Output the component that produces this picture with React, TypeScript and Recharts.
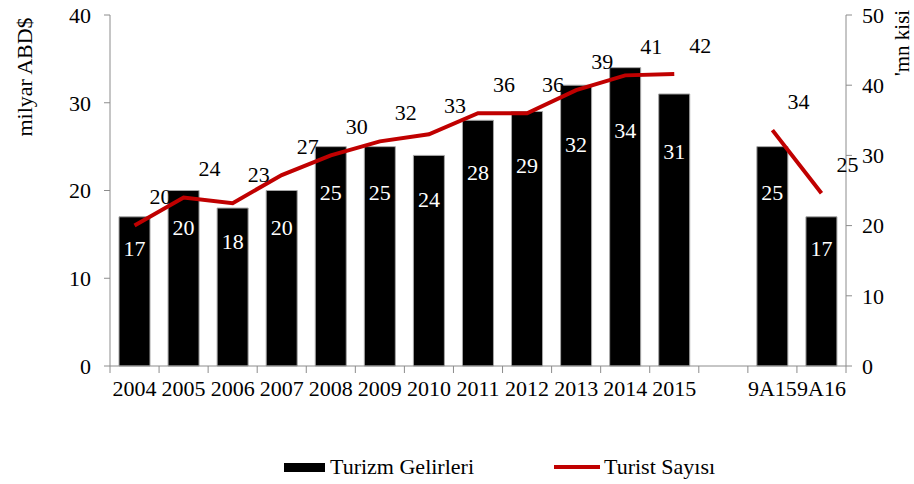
import React from 'react';
import { ComposedChart, Bar, Line, XAxis, YAxis, LabelList } from 'recharts';

const categories = ['2004', '2005', '2006', '2007', '2008', '2009', '2010', '2011', '2012', '2013', '2014', '2015', '', '9A15', '9A16'];
const revenue = [17, 20, 18, 20, 25, 25, 24, 28, 29, 32, 34, 31, null, 25, 17];
const tourists = [20, 24, 23.2, 27.2, 30, 32, 33, 36, 36, 39.3, 41.4, 41.6, null, 33.6, 24.6];
const leftTicks = [0, 10, 20, 30, 40];
const rightTicks = [0, 10, 20, 30, 40, 50];

const FONT = 'Liberation Serif, DejaVu Serif, serif';
const FS = 22;
const AXIS_GRAY = '#8c8c8c';
const RED = '#C00000';

const data = categories.map((c, i) => ({ name: c, revenue: revenue[i], tourists: tourists[i] }));

// category ticks sit between the bars, like the spreadsheet original
const XTick = (props: any) => {
    const { x, y, payload, index } = props;
    const half = payload.offset ?? 24.5;
    return (
        <g>
            <line x1={x - half} y1={y} x2={x - half} y2={y + 7} stroke={AXIS_GRAY} />
            {index === categories.length - 1 && (
                <line x1={x + half} y1={y} x2={x + half} y2={y + 7} stroke={AXIS_GRAY} />
            )}
            <text x={x} y={y + 30} textAnchor="middle" fill="#000" fontSize={FS} fontFamily={FONT}>
                {payload.value}
            </text>
        </g>
    );
};

const BarLabel = (props: any) => {
    const { x, y, width, height, value } = props;
    if (value == null) return null;
    return (
        <text x={x + width / 2} y={y + height * 0.21} dy="0.35em" textAnchor="middle" fill="#fff" fontSize={FS} fontFamily={FONT}>
            {Math.round(value)}
        </text>
    );
};

const LineLabel = (props: any) => {
    const { x, y, value } = props;
    if (value == null) return null;
    return (
        <text x={x + 26} y={y - 29} dy="0.35em" textAnchor="middle" fill="#000" fontSize={FS} fontFamily={FONT}>
            {Math.round(value)}
        </text>
    );
};

const LeftTitle = (props: any) => {
    const { viewBox } = props;
    const cx = viewBox.x + 24;
    const cy = viewBox.y + 62;
    return (
        <text x={cx} y={cy} transform={`rotate(-90 ${cx} ${cy})`} textAnchor="middle" dominantBaseline="central" fill="#000" fontSize={FS} fontFamily={FONT}>
            milyar ABD$
        </text>
    );
};

const RightTitle = (props: any) => {
    const { viewBox } = props;
    const cx = viewBox.x + 56;
    const cy = 76;
    return (
        <text x={cx} y={cy} transform={`rotate(-90 ${cx} ${cy})`} textAnchor="start" dominantBaseline="central" fill="#000" fontSize={21} fontFamily={FONT}>
            'mn kisi
        </text>
    );
};

const App = () => {
    return (
        <div style={{ position: 'absolute', left: 0, top: 0, width: 914, height: 484, background: '#fff' }}>
            <ComposedChart width={914} height={484} data={data} margin={{ top: 15, right: 0, bottom: 88, left: 0 }}>
                <XAxis
                    dataKey="name"
                    interval={0}
                    height={30}
                    tickSize={0}
                    tickMargin={0}
                    tickLine={false}
                    axisLine={{ stroke: AXIS_GRAY }}
                    tick={<XTick />}
                />
                <YAxis
                    yAxisId="left"
                    width={110}
                    domain={[0, 40]}
                    ticks={leftTicks}
                    interval={0}
                    tickSize={6}
                    tickMargin={13}
                    axisLine={{ stroke: AXIS_GRAY }}
                    tickLine={{ stroke: AXIS_GRAY }}
                    tick={{ fill: '#000', fontSize: FS, fontFamily: FONT }}
                    label={<LeftTitle />}
                />
                <YAxis
                    yAxisId="right"
                    orientation="right"
                    width={68}
                    domain={[0, 50]}
                    ticks={rightTicks}
                    interval={0}
                    tickSize={6}
                    tickMargin={10}
                    axisLine={{ stroke: AXIS_GRAY }}
                    tickLine={{ stroke: AXIS_GRAY }}
                    tick={{ fill: '#000', fontSize: FS, fontFamily: FONT }}
                    label={<RightTitle />}
                />
                <Bar yAxisId="left" dataKey="revenue" barSize={31} fill="#000" stroke="#a6a6a6" strokeWidth={1} isAnimationActive={false}>
                    <LabelList dataKey="revenue" content={<BarLabel />} />
                </Bar>
                <Line
                    yAxisId="right"
                    dataKey="tourists"
                    stroke={RED}
                    strokeWidth={4}
                    dot={false}
                    connectNulls={false}
                    type="linear"
                    isAnimationActive={false}
                >
                    <LabelList dataKey="tourists" content={<LineLabel />} />
                </Line>
            </ComposedChart>
            <div style={{ position: 'absolute', top: 454, left: 284, display: 'flex', alignItems: 'center', fontFamily: FONT, fontSize: FS, color: '#000', whiteSpace: 'nowrap' }}>
                <span style={{ display: 'inline-block', width: 41, height: 9, background: '#000', marginRight: 5 }} />
                <span>Turizm Gelirleri</span>
                <span style={{ display: 'inline-block', width: 46, height: 4, background: RED, marginLeft: 80, marginRight: 4 }} />
                <span>Turist Sayısı</span>
            </div>
        </div>
    );
};

export default App;
